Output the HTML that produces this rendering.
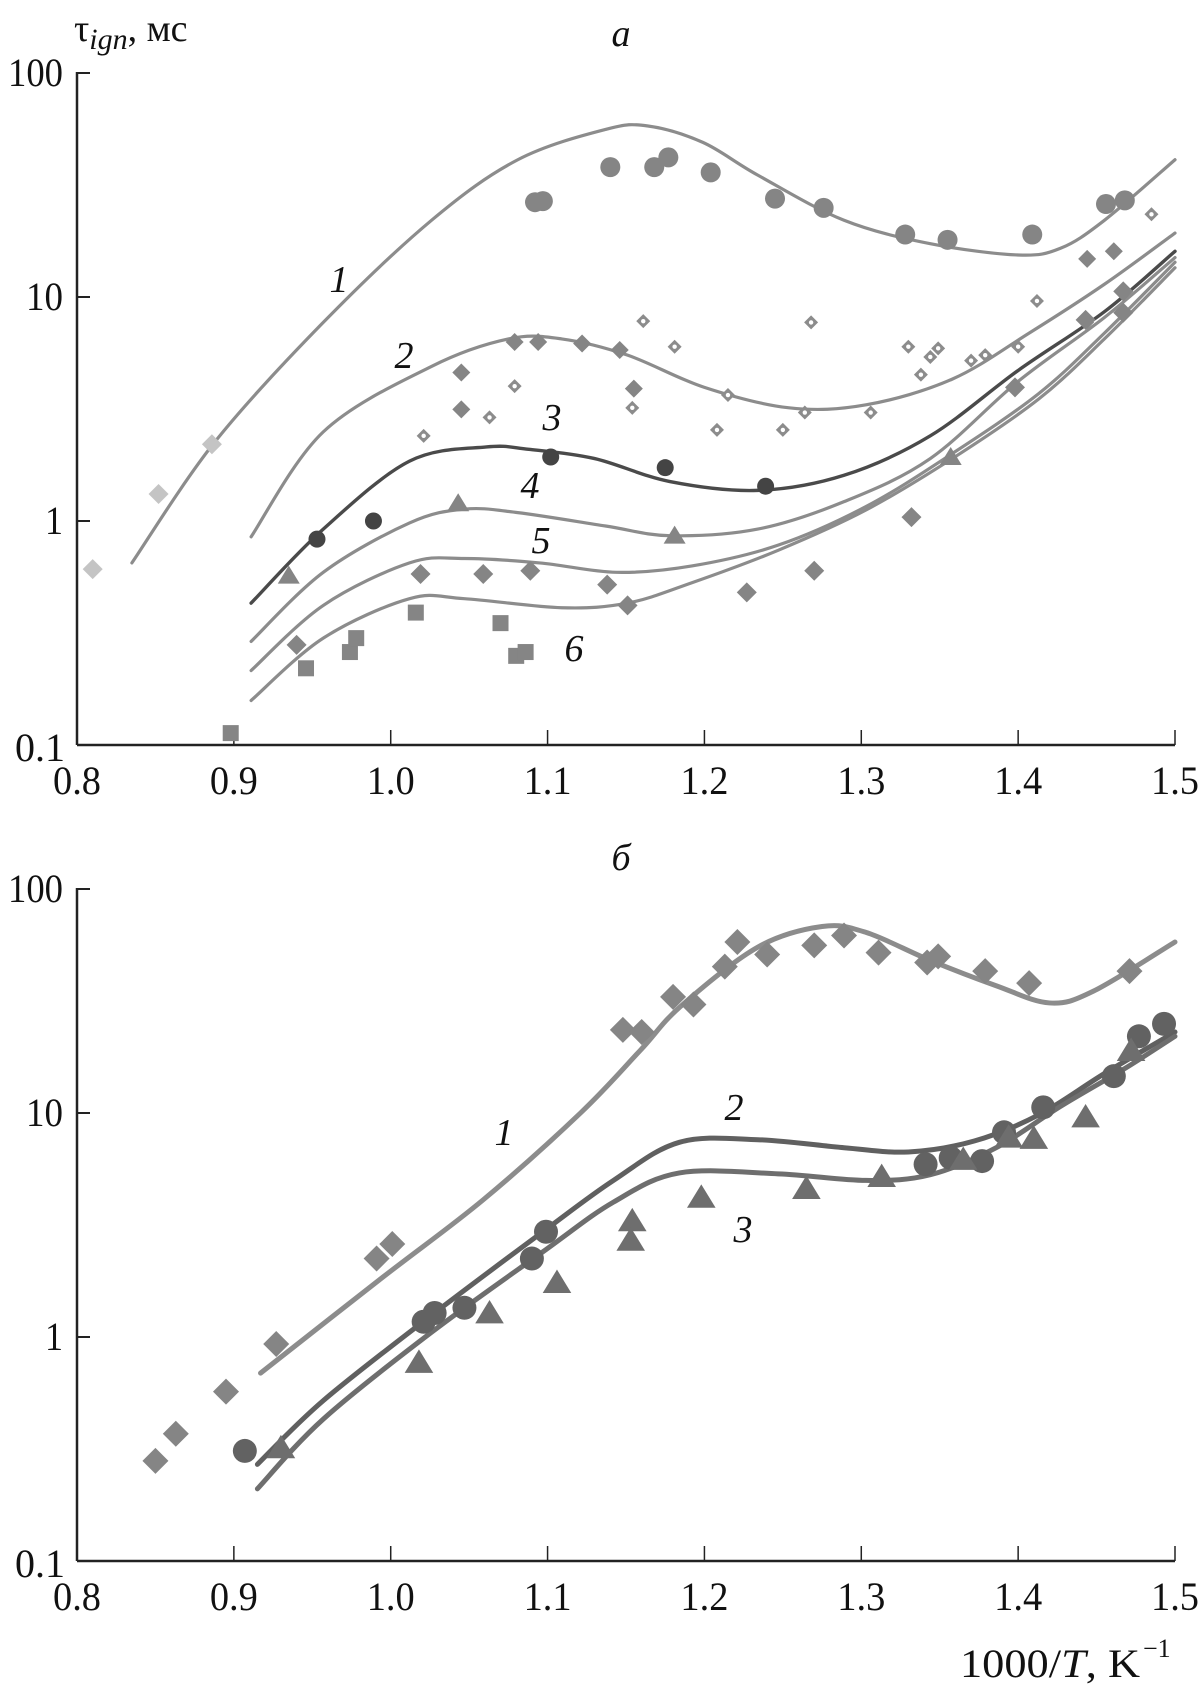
<!DOCTYPE html>
<html><head><meta charset="utf-8"><style>
html,body{margin:0;padding:0;background:#fff}
svg{display:block}
text{font-family:"Liberation Serif",serif;fill:#111}
</style></head><body>
<svg id="chart" width="1198" height="1690" viewBox="0 0 1198 1690" xmlns="http://www.w3.org/2000/svg">
<g id="root"></g>
</svg>
<script>
const xTicks=[0.8,0.9,1.0,1.1,1.2,1.3,1.4,1.5];
const xTickLabels=["0.8","0.9","1.0","1.1","1.2","1.3","1.4","1.5"];
const yTicks=[0.1,1,10,100];
const yTickLabels=["0.1","1","10","100"];

const aCurve1X=[0.835,0.888,0.957,1.026,1.081,1.137,1.164,1.199,1.234,1.289,1.344,1.40,1.427,1.455,1.50];
const aCurve1Y=[0.65,2.26,7.7,22,41,56,58,49,35,22,17.3,15.4,16.5,22,41];
const aCurve2X=[0.911,0.957,1.026,1.075,1.109,1.151,1.20,1.254,1.303,1.358,1.407,1.455,1.50];
const aCurve2Y=[0.85,2.5,4.9,6.5,6.5,5.5,3.95,3.2,3.3,4.3,6.9,11.4,19.3];
const aCurve3X=[0.911,0.957,1.012,1.061,1.088,1.13,1.178,1.234,1.289,1.344,1.40,1.455,1.50];
const aCurve3Y=[0.43,0.92,1.85,2.14,2.09,1.9,1.5,1.37,1.6,2.4,4.7,8.6,16];
const aCurve4X=[0.911,0.957,1.012,1.047,1.081,1.137,1.178,1.234,1.289,1.344,1.40,1.455,1.50];
const aCurve4Y=[0.29,0.59,0.98,1.13,1.09,0.95,0.86,0.92,1.22,1.9,4.2,8.1,15];
const aCurve5X=[0.911,0.957,1.012,1.047,1.095,1.144,1.192,1.247,1.303,1.358,1.413,1.455,1.50];
const aCurve5Y=[0.215,0.42,0.65,0.68,0.65,0.59,0.63,0.78,1.16,2.0,3.7,6.9,14.3];
const aCurve6X=[0.911,0.957,1.012,1.047,1.109,1.151,1.192,1.247,1.303,1.358,1.413,1.455,1.50];
const aCurve6Y=[0.158,0.30,0.45,0.45,0.41,0.43,0.53,0.74,1.12,1.9,3.5,6.5,13.5];

const aLightDiaX=[0.810,0.852,0.886];
const aLightDiaY=[0.61,1.32,2.2];
const aCircX=[1.092,1.097,1.140,1.168,1.177,1.204,1.245,1.276,1.328,1.355,1.409,1.456,1.468];
const aCircY=[26.5,26.8,38,38,42,36,27.5,25,19,18,19,26,27];
const aOpenDiaX=[1.021,1.063,1.079,1.154,1.161,1.181,1.208,1.215,1.25,1.264,1.268,1.306,1.33,1.338,1.344,1.349,1.37,1.379,1.40,1.412,1.444,1.485];
const aOpenDiaY=[2.4,2.9,4.0,3.2,7.8,6.0,2.55,3.65,2.55,3.05,7.7,3.05,6.0,4.5,5.4,5.9,5.2,5.5,6.0,9.6,7.7,23.4];
const aFillDiaX=[1.045,1.045,1.079,1.094,1.122,1.146,1.155,1.444,1.461];
const aFillDiaY=[4.6,3.15,6.3,6.3,6.2,5.8,3.9,14.8,16];
const aDarkCircX=[0.953,0.989,1.102,1.175,1.239];
const aDarkCircY=[0.83,1.0,1.93,1.73,1.43];
const aTriX=[0.935,1.043,1.181,1.357];
const aTriY=[0.57,1.2,0.86,1.93];
const aDiaX=[0.940,1.019,1.059,1.089,1.138,1.151,1.227,1.27,1.332,1.398,1.443,1.467,1.467];
const aDiaY=[0.28,0.58,0.58,0.6,0.52,0.42,0.48,0.6,1.04,3.95,7.9,10.6,8.5];
const aSqX=[0.898,0.946,0.974,0.978,1.016,1.070,1.080,1.086];
const aSqY=[0.113,0.22,0.26,0.30,0.39,0.35,0.25,0.26];

const bCurve1X=[0.917,0.995,1.059,1.121,1.159,1.185,1.234,1.275,1.303,1.344,1.386,1.42,1.448,1.50];
const bCurve1Y=[0.69,1.85,4.1,10,19,30,55,68,64,48,37,31,35,58];
const bCurve2X=[0.915,0.957,1.026,1.097,1.142,1.184,1.234,1.289,1.33,1.372,1.413,1.455,1.50];
const bCurve2Y=[0.27,0.52,1.25,2.95,5.0,7.4,7.6,7.0,6.7,7.5,9.8,15,23];
const bCurve3X=[0.915,0.957,1.026,1.097,1.142,1.184,1.247,1.303,1.344,1.386,1.427,1.468,1.50];
const bCurve3Y=[0.21,0.43,1.05,2.4,4.0,5.4,5.35,5.0,5.3,7.0,10.7,15.8,22];

const bDiaX=[0.850,0.863,0.895,0.927,0.991,1.001,1.148,1.160,1.180,1.193,1.213,1.221,1.240,1.270,1.289,1.311,1.342,1.349,1.379,1.407,1.471];
const bDiaY=[0.28,0.37,0.57,0.93,2.24,2.6,23.5,23,33,30.5,45,58,51,56,62,52,47,50,43,38,43];
const bCircX=[0.907,1.021,1.028,1.047,1.090,1.099,1.341,1.357,1.377,1.391,1.416,1.461,1.477,1.493];
const bCircY=[0.31,1.17,1.28,1.35,2.24,2.95,5.9,6.3,6.1,8.2,10.6,14.6,22,25];
const bTriX=[0.930,1.018,1.063,1.106,1.154,1.153,1.198,1.265,1.313,1.365,1.394,1.410,1.443,1.472];
const bTriY=[0.32,0.77,1.28,1.75,3.3,2.7,4.2,4.6,5.2,6.2,7.8,7.7,9.6,19];

const NS="http://www.w3.org/2000/svg";
const root=document.getElementById('root');
const X0=77,X1=1175;
function xs(v){return X0+(v-0.8)/0.7*(X1-X0);}
function mkY(top){return function(v){return top+(2-Math.log10(v))*224;};}
const panels=[{top:73,name:'panel-a'},{top:889,name:'panel-b'}];
function el(tag,attrs,parent){const e=document.createElementNS(NS,tag);for(const k in attrs)e.setAttribute(k,attrs[k]);(parent||root).appendChild(e);return e;}

function axes(p){
  const ys=mkY(p.top);const g=el('g',{});
  
  
  const bottom=ys(0.1);
  el('line',{x1:X0,y1:p.top-1,x2:X0,y2:bottom,stroke:'#222','stroke-width':2.5},g);
  el('line',{x1:X0,y1:bottom,x2:X1,y2:bottom,stroke:'#222','stroke-width':2.5},g);
  xTicks.forEach((t,i)=>{
    const x=xs(t);
    if(i>0){const tk=el('line',{x1:x,y1:bottom,x2:x,y2:bottom-15,stroke:'#222','stroke-width':1.5},g);
    }
    const tx=el('text',{x:x-24,y:bottom+49,'font-size':40,textLength:48,lengthAdjust:'spacingAndGlyphs'},g);
    tx.textContent=xTickLabels[i];
    
  });
  const widths=[50,18,37,55];
  yTicks.forEach((t,i)=>{
    const y=ys(t);
    if(i>0){const tk=el('line',{x1:X0,y1:y,x2:X0+13,y2:y,stroke:'#222','stroke-width':2},g);
    }
    const right=i==0?65:63;
    const tx=el('text',{x:right-widths[i],y:y+(i==0?16:13),'font-size':40,textLength:widths[i],lengthAdjust:'spacingAndGlyphs'},g);
    tx.textContent=yTickLabels[i];
    
  });
}
function curve(xa,ya,top,color,w,name){
  const ys=mkY(top);
  const P=xa.map((v,i)=>[xs(v),ys(ya[i])]);
  let d='M'+P[0][0]+','+P[0][1];
  for(let i=0;i<P.length-1;i++){
    const p0=P[Math.max(i-1,0)],p1=P[i],p2=P[i+1],p3=P[Math.min(i+2,P.length-1)];
    const c1=[p1[0]+(p2[0]-p0[0])/6,p1[1]+(p2[1]-p0[1])/6];
    const c2=[p2[0]-(p3[0]-p1[0])/6,p2[1]-(p3[1]-p1[1])/6];
    d+=' C'+c1+' '+c2+' '+p2;
  }
  const e=el('path',{d:d,fill:'none',stroke:color,'stroke-width':w,'stroke-linecap':'round'});
  
  
}
function marks(xa,ya,top,shape,size,color,name){
  const ys=mkY(top);
  xa.forEach((v,i)=>{
    const x=xs(v),y=ys(ya[i]);let e;const s=size;
    if(shape==='circle')e=el('circle',{cx:x,cy:y,r:s,fill:color});
    else if(shape==='dia')e=el('polygon',{points:`${x},${y-s} ${x+s},${y} ${x},${y+s} ${x-s},${y}`,fill:color});
    else if(shape==='open'){e=el('g',{});el('polygon',{points:`${x},${y-s} ${x+s},${y} ${x},${y+s} ${x-s},${y}`,fill:color},e);el('circle',{cx:x,cy:y,r:2.2,fill:'#fff'},e);}
    else if(shape==='tri')e=el('polygon',{points:`${x},${y-s} ${x+s*1.1},${y+s*0.8} ${x-s*1.1},${y+s*0.8}`,fill:color});
    else if(shape==='sq')e=el('rect',{x:x-s,y:y-s,width:2*s,height:2*s,fill:color});
    
    
  });
}
function label(txt,x,y,name,size){
  const t=el('text',{x:x,y:y,'font-size':size||38,'font-style':'italic','text-anchor':'middle'});
  t.textContent=txt;
  
  
}
panels.forEach(axes);
const tA=73,tB=889;
curve(aCurve1X,aCurve1Y,tA,'#8c8c8c',3.2,'curve-a-1');
curve(aCurve2X,aCurve2Y,tA,'#8c8c8c',3.2,'curve-a-2');
curve(aCurve3X,aCurve3Y,tA,'#4a4a4a',3.4,'curve-a-3');
curve(aCurve4X,aCurve4Y,tA,'#8c8c8c',3.2,'curve-a-4');
curve(aCurve5X,aCurve5Y,tA,'#8c8c8c',3.2,'curve-a-5');
curve(aCurve6X,aCurve6Y,tA,'#8c8c8c',3.2,'curve-a-6');
marks(aLightDiaX,aLightDiaY,tA,'dia',10,'#c4c4c4','point-a-light-diamond');
marks(aCircX,aCircY,tA,'circle',10,'#858585','point-a-1');
marks(aOpenDiaX,aOpenDiaY,tA,'open',7,'#8c8c8c','point-a-2-open');
marks(aFillDiaX,aFillDiaY,tA,'dia',9,'#858585','point-a-2');
marks(aDarkCircX,aDarkCircY,tA,'circle',8.5,'#444','point-a-3');
marks(aTriX,aTriY,tA,'tri',10,'#858585','point-a-4');
marks(aDiaX,aDiaY,tA,'dia',10,'#858585','point-a-5');
marks(aSqX,aSqY,tA,'sq',8,'#858585','point-a-6');
curve(bCurve1X,bCurve1Y,tB,'#8c8c8c',5,'curve-b-1');
curve(bCurve2X,bCurve2Y,tB,'#606060',5,'curve-b-2');
curve(bCurve3X,bCurve3Y,tB,'#6e6e6e',5,'curve-b-3');
marks(bDiaX,bDiaY,tB,'dia',13,'#858585','point-b-1');
marks(bCircX,bCircY,tB,'circle',12,'#626262','point-b-2');
marks(bTriX,bTriY,tB,'tri',13,'#6e6e6e','point-b-3');
label('1',339,292,'label-curve-a-1');
label('2',404,368,'label-curve-a-2');
label('3',552,430,'label-curve-a-3');
label('4',530,498,'label-curve-a-4');
label('5',541,553,'label-curve-a-5');
label('6',574,661,'label-curve-a-6');
label('а',621,46,'panel-a-title');
label('б',621,870,'panel-b-title');
label('1',504,1145,'label-curve-b-1');
label('2',734,1120,'label-curve-b-2');
label('3',743,1242,'label-curve-b-3');
const yt=el('text',{x:74,y:41,'font-size':38});


yt.innerHTML='τ<tspan font-style="italic" font-size="30" dy="8">ign</tspan><tspan dy="-8">, мс</tspan>';
const xt=el('text',{x:960,y:1677,'font-size':40,textLength:180,lengthAdjust:'spacingAndGlyphs'});


xt.innerHTML='1000/<tspan font-style="italic">T</tspan>, K';
const xs2=el('text',{x:1143,y:1657,'font-size':26});


xs2.textContent='−1';
</script>
</body></html>
